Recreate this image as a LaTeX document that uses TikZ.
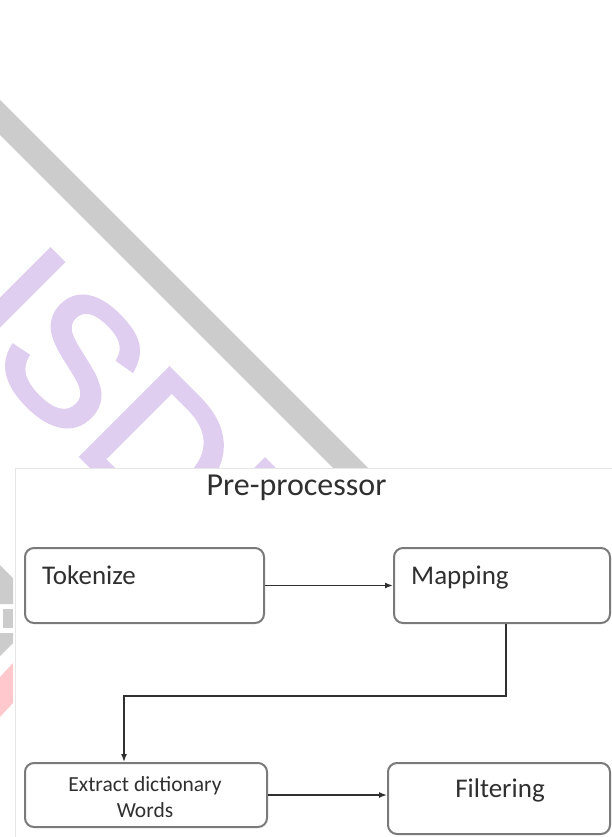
\documentclass[tikz,border=0pt]{standalone}
\usepackage{fontspec}
\setmainfont{Carlito}
\newfontfamily\wmfont[BoldFont={Liberation Sans},BoldFeatures={FakeBold=2.5}]{Liberation Sans}
\usetikzlibrary{arrows.meta}
\definecolor{wmgrey}{HTML}{CCCCCC}
\definecolor{wmpurple}{HTML}{DFCEF0}
\definecolor{wmred}{HTML}{FFC8CC}
\definecolor{boxline}{HTML}{7A7A7A}
\definecolor{ink}{HTML}{303030}
\definecolor{panelline}{HTML}{E6E6E6}
\begin{document}
\begin{tikzpicture}[x=1pt,y=-1pt,
  box/.style={draw=boxline, line width=2pt, rounded corners=9pt, fill=white, inner sep=0pt},
  lbl/.style={text=ink, inner sep=0pt, font=\fontsize{27}{30}\selectfont},
  small/.style={text=ink, inner sep=0pt, align=center, font=\fontsize{21.5}{26}\selectfont},
  title/.style={text=ink, inner sep=0pt, font=\fontsize{32}{34}\selectfont},
  conn/.style={draw=ink, line width=1.5pt, -{Latex[length=8pt,width=6pt]}},
  wmtext/.style={rotate=-45, anchor=base west, inner sep=0pt, text=wmpurple, font=\wmfont\bfseries\fontsize{180}{180}\selectfont}]
\useasboundingbox (0,0) rectangle (611,837);
\fill[white] (0,0) rectangle (611,837);
% watermark
\fill[wmgrey] (0,100) -- (420,520) -- (420,555) -- (0,135) -- cycle;
\node[wmtext] (wm) at (-49,326) {ISD};
\fill[wmpurple] (254,468) -- (265,457) -- (276,468) -- cycle;
\fill[wmgrey] (0,565) -- (13,578) -- (13,604) -- (0,604) -- cycle;
\fill[wmgrey] (3,609) -- (13,609) -- (13,628) -- (3,628) -- cycle;
\fill[wmgrey] (0,633) -- (13,633) -- (13,643) -- (0,656) -- cycle;
\fill[wmred] (0,677) -- (13,663) -- (13,703) -- (0,717) -- cycle;
% panel
\filldraw[fill=white, draw=panelline, line width=1pt] (15,468) rectangle (620,845);
% title
\node[title, anchor=base] (ttl) at (296.5,495) {Pre-processor};
% boxes
\node[box, minimum width=239pt, minimum height=75pt] (tok) at (144.5,585.5) {};
\node[box, minimum width=216pt, minimum height=75pt] (map) at (502,585.5) {};
\node[box, minimum width=242pt, minimum height=64pt] (ext) at (146,795) {};
\node[box, minimum width=222pt, minimum height=71pt] (fil) at (499,798.5) {};
% labels
\node[lbl, anchor=base west] (toktxt) at (42,584) {Tokenize};
\node[lbl, anchor=base west] (maptxt) at (411,584) {Mapping};
\node[small] (exttxt) at (145,797) {Extract dictionary\\Words};
\node[lbl, anchor=base] (filtxt) at (500,797) {Filtering};
% connectors
\draw[conn] (tok) -- (map);
\draw[conn] ([xshift=4pt]map.south) -- ++(0,72) -| ([xshift=-22pt]ext.north);
\draw[conn] (ext.east) -- (ext.east -| fil.west);
\end{tikzpicture}
\end{document}
